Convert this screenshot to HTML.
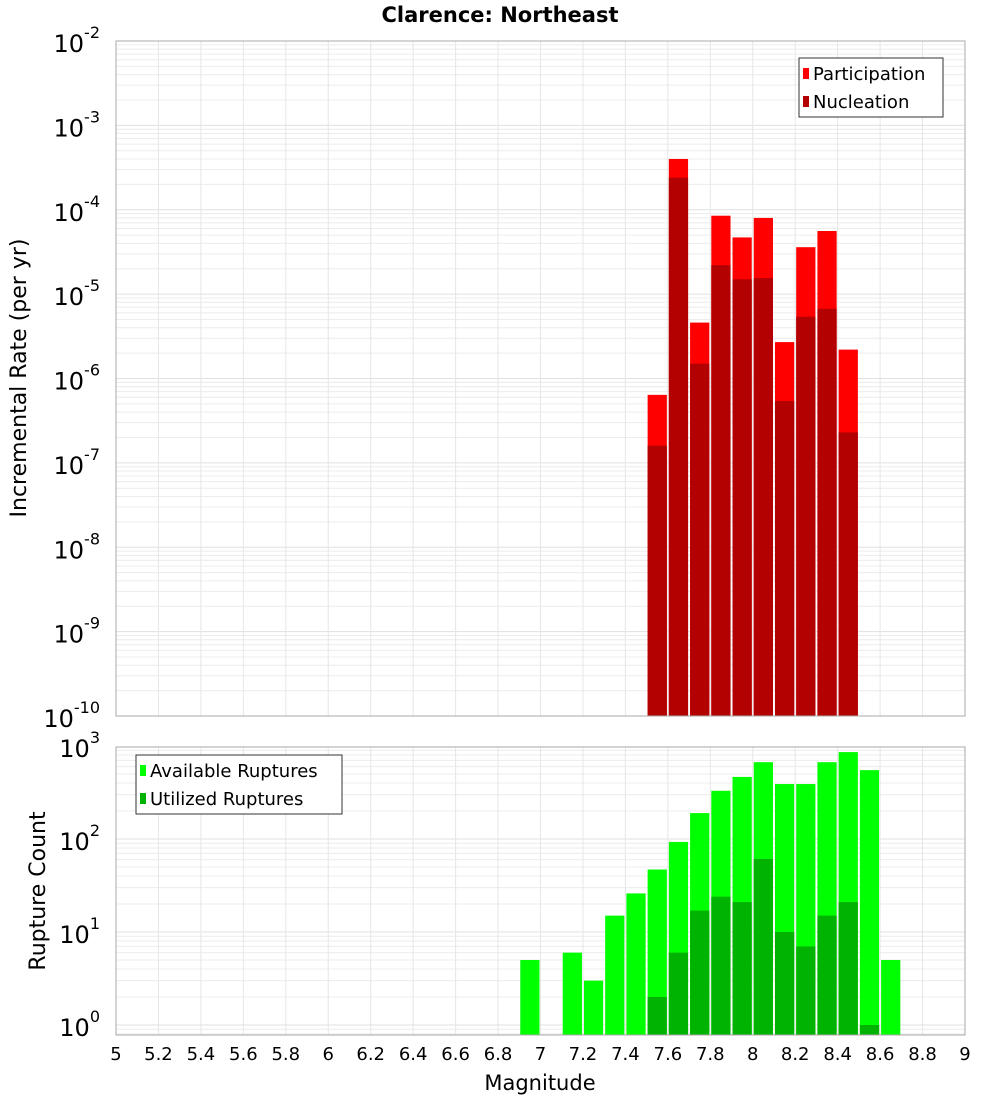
<!DOCTYPE html>
<html><head><meta charset="utf-8"><style>body{margin:0;background:#fff}svg text{font-family:"DejaVu Sans","Liberation Sans",sans-serif}</style></head>
<body>
<svg id="c" width="1000" height="1100" xmlns="http://www.w3.org/2000/svg"></svg>
<script>
const binCenters=[7.55,7.65,7.75,7.85,7.95,8.05,8.15,8.25,8.35,8.45];
const participation=[6.4e-7,4.0e-4,4.6e-6,8.5e-5,4.7e-5,8.0e-5,2.7e-6,3.6e-5,5.6e-5,2.2e-6];
const nucleation=[1.6e-7,2.4e-4,1.5e-6,2.2e-5,1.5e-5,1.55e-5,5.4e-7,5.4e-6,6.7e-6,2.3e-7];
const countCenters=[6.95,7.15,7.25,7.35,7.45,7.55,7.65,7.75,7.85,7.95,8.05,8.15,8.25,8.35,8.45,8.55,8.65];
const available=[5,6,3,15,26,47,93,190,330,465,670,390,390,670,860,550,5];
const utilized=[0,0,0,0,0,2,6,17,24,21,61,10,7,15,21,1,0];
const xTicks=[5,5.2,5.4,5.6,5.8,6,6.2,6.4,6.6,6.8,7,7.2,7.4,7.6,7.8,8,8.2,8.4,8.6,8.8,9];
const topExps=[-2,-3,-4,-5,-6,-7,-8,-9,-10];
const botExps=[3,2,1,0];
const NS="http://www.w3.org/2000/svg",svg=document.getElementById('c');
function el(t,a,p){const e=document.createElementNS(NS,t);for(const k in a)e.setAttribute(k,a[k]);(p||svg).appendChild(e);return e;}
const L=116,R=965;
const X=m=>L+(m-5)/4*(R-L);
const T0=41,T1=716,B0=747,B1=1035;
const Yt=v=>T0+(-2-Math.log10(v))*(T1-T0)/8;
const Yb=v=>1025-Math.log10(v)*93;
function grid(y0,y1,expLo,expHi,Y){
  for(let e=expLo;e<expHi;e++)for(let k=1;k<10;k++){const y=Y(k*Math.pow(10,e));if(y<y0-0.5||y>y1+0.5)continue;
    const g=el('line',{x1:L,x2:R,y1:y,y2:y,stroke:k==1?'#e0e0e0':'#ececec','stroke-width':1});}
  xTicks.forEach(t=>{const g=el('line',{x1:X(t),x2:X(t),y1:y0,y2:y1,stroke:'#e6e6e6'});});
}
grid(T0,T1,-10,-1,Yt);
grid(B0,B1,-1,4,Yb);
const bw=(X(0.1)-X(0)) ;
function bar(c,v,Y,base,fill,name){if(!v)return;const x=X(c-0.05)+1,y=Y(v);
  const r=el('rect',{x:x,y:y,width:bw-2,height:base-y,fill:fill});}
binCenters.forEach((c,i)=>{bar(c,participation[i],Yt,T1,'#ff0000','participation-bar');bar(c,nucleation[i],Yt,T1,'#b30000','nucleation-bar');});
countCenters.forEach((c,i)=>{bar(c,available[i],Yb,B1,'#00ff00','available-bar');bar(c,utilized[i],Yb,B1,'#00b300','utilized-bar');});
el('rect',{x:L,y:T0,width:R-L,height:T1-T0,fill:'none',stroke:'#aaa',});
el('rect',{x:L,y:B0,width:R-L,height:B1-B0,fill:'none',stroke:'#aaa',});
topExps.forEach(e=>{const y=Yt(Math.pow(10,e));const t=el('text',{x:100,y:y+11,'font-size':24,'text-anchor':'end'});
  t.innerHTML='10<tspan dy="-14" font-size="16">'+e+'</tspan>';});
botExps.forEach(e=>{const y=Yb(Math.pow(10,e));const t=el('text',{x:100,y:y+11,'font-size':24,'text-anchor':'end'});
  t.innerHTML='10<tspan dy="-14" font-size="16">'+e+'</tspan>';});
xTicks.forEach(m=>{const t=el('text',{x:X(m),y:1060,'font-size':18,'text-anchor':'middle'});t.textContent=String(m);});
el('text',{x:500,y:22,'font-size':21,'font-weight':'bold','text-anchor':'middle',}).textContent='Clarence: Northeast';
el('text',{x:540,y:1090,'font-size':21,'text-anchor':'middle',}).textContent='Magnitude';
el('text',{x:26,y:378,'font-size':22,'text-anchor':'middle',transform:'rotate(-90 26 378)',}).textContent='Incremental Rate (per yr)';
el('text',{x:45,y:891,'font-size':22,'text-anchor':'middle',transform:'rotate(-90 45 891)',}).textContent='Rupture Count';
function legend(x,y,w,items){const g=el('g',{});
  el('rect',{x:x,y:y,width:w,height:59,fill:'#fff',stroke:'#333'},g);
  items.forEach((it,i)=>{el('rect',{x:x+4,y:y+10+i*28,width:6,height:11,fill:it[1]},g);
    const t=el('text',{x:x+14,y:y+22+i*28,'font-size':18},g);t.textContent=it[0];});}
legend(799,58,144,[['Participation','#ff0000'],['Nucleation','#b30000']]);
legend(136,755,206,[['Available Ruptures','#00ff00'],['Utilized Ruptures','#00b300']]);
</script>
</body></html>
